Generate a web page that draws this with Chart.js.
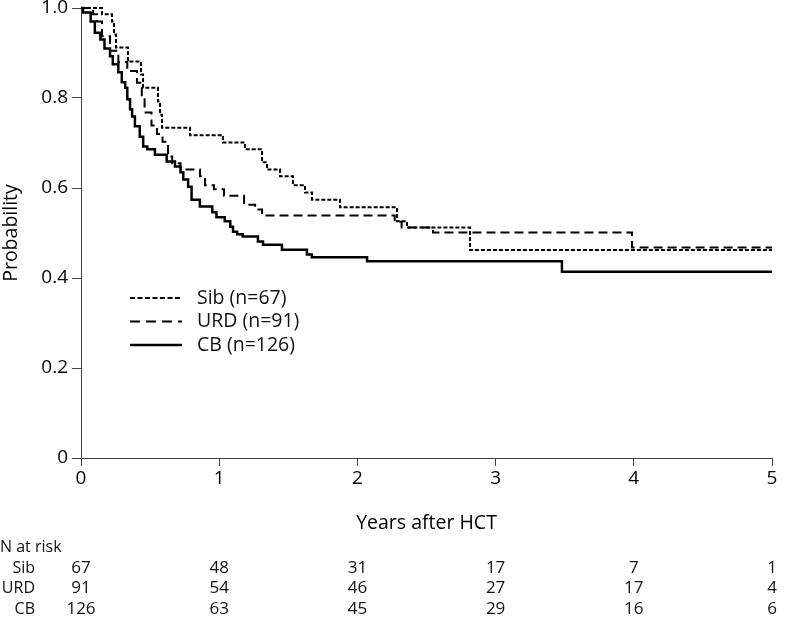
<!DOCTYPE html>
<html>
<head>
<meta charset="utf-8">
<script src="https://cdn.jsdelivr.net/npm/chart.js@4"></script>
<style>
  html, body { margin: 0; padding: 0; background: #fff; }
</style>
</head>
<body>
<canvas id="km" width="800" height="617"></canvas>
<script>
const FONT = '"Open Sans", sans-serif';

// Kaplan-Meier steps (years after HCT, probability)
const sibYears = [0, 0.152, 0.224, 0.239, 0.253, 0.340, 0.434, 0.449, 0.557, 0.572, 0.586, 0.789, 1.027, 1.187, 1.310, 1.346, 1.440, 1.534, 1.621, 1.671, 1.874, 2.287, 2.359, 2.815, 5];
const sibProb  = [1, 0.986, 0.970, 0.941, 0.912, 0.881, 0.852, 0.823, 0.792, 0.763, 0.734, 0.717, 0.701, 0.686, 0.657, 0.641, 0.626, 0.606, 0.590, 0.574, 0.557, 0.526, 0.512, 0.462, 0.462];

const urdYears = [0, 0.087, 0.116, 0.152, 0.21, 0.27, 0.335, 0.405, 0.44, 0.46, 0.51, 0.55, 0.59, 0.63, 0.66, 0.72, 0.861, 0.897, 0.962, 1.035, 1.18, 1.26, 1.31, 2.27, 2.32, 2.547, 3.987, 5];
const urdProb  = [1, 0.986, 0.970, 0.937, 0.905, 0.880, 0.860, 0.834, 0.797, 0.768, 0.739, 0.720, 0.703, 0.670, 0.655, 0.641, 0.626, 0.606, 0.597, 0.583, 0.563, 0.552, 0.539, 0.525, 0.512, 0.501, 0.468, 0.468];

const cbYears = [0, 0.015, 0.07, 0.10, 0.14, 0.17, 0.21, 0.23, 0.27, 0.295, 0.32, 0.335, 0.355, 0.37, 0.39, 0.425, 0.45, 0.48, 0.535, 0.62, 0.68, 0.72, 0.74, 0.775, 0.80, 0.86, 0.95, 0.98, 1.04, 1.08, 1.10, 1.13, 1.17, 1.28, 1.317, 1.454, 1.635, 1.67, 2.07, 3.48, 5];
const cbProb  = [1, 0.990, 0.970, 0.945, 0.930, 0.910, 0.893, 0.875, 0.857, 0.835, 0.823, 0.797, 0.775, 0.759, 0.737, 0.714, 0.692, 0.686, 0.674, 0.659, 0.648, 0.635, 0.619, 0.603, 0.574, 0.559, 0.546, 0.535, 0.526, 0.514, 0.503, 0.497, 0.492, 0.481, 0.474, 0.463, 0.452, 0.446, 0.437, 0.414, 0.414];

const legendLabels = ['Sib (n=67)', 'URD (n=91)', 'CB (n=126)'];
const groupNames = ['Sib', 'URD', 'CB'];

// numbers at risk table
const riskYears = [0, 1, 2, 3, 4, 5];
const riskSib = [67, 48, 31, 17, 7, 1];
const riskUrd = [91, 54, 46, 27, 17, 4];
const riskCb  = [126, 63, 45, 29, 16, 6];

function toPoints(xs, ys) {
  return xs.map((x, i) => ({ x: x, y: ys[i] }));
}

Chart.defaults.font.family = FONT;
Chart.defaults.color = '#111';

// legend drawn inside the plot, like the original figure
const kmLegend = {
  id: 'kmLegend',
  afterDatasetsDraw(chart) {
    const ctx = chart.ctx;
    ctx.save();
    chart.data.datasets.forEach((ds, i) => {
      const y = 298 + i * 23.5;
      ctx.beginPath();
      ctx.setLineDash(ds.legendDash);
      ctx.lineWidth = ds.borderWidth;
      ctx.strokeStyle = ds.borderColor;
      ctx.moveTo(130, y);
      ctx.lineTo(182, y);
      ctx.stroke();
      ctx.setLineDash([]);
      ctx.fillStyle = '#111';
      ctx.font = '19.5px ' + FONT;
      ctx.textBaseline = 'middle';
      ctx.textAlign = 'left';
      ctx.fillText(ds.label, 197, y);
    });
    ctx.restore();
  }
};

const riskTable = {
  id: 'riskTable',
  afterDraw(chart) {
    const ctx = chart.ctx;
    const xs = chart.scales.x;
    ctx.save();
    ctx.fillStyle = '#111';
    ctx.textBaseline = 'middle';
    ctx.textAlign = 'left';
    ctx.font = '16px ' + FONT;
    ctx.fillText('N at risk', 0, 547);
    [riskSib, riskUrd, riskCb].forEach((row, r) => {
      const y = 568 + r * 20.5;
      ctx.font = '16px ' + FONT;
      ctx.textAlign = 'right';
      ctx.fillText(groupNames[r], 35, y);
      ctx.font = '17px ' + FONT;
      ctx.textAlign = 'center';
      row.forEach((n, i) => ctx.fillText(String(n), xs.getPixelForValue(riskYears[i]), y));
    });
    ctx.restore();
  }
};

const lineBase = { borderColor: '#000', stepped: true, pointRadius: 0, fill: false, clip: false, tension: 0 };

new Chart(document.getElementById('km'), {
  type: 'line',
  data: {
    datasets: [
      Object.assign({}, lineBase, { label: legendLabels[0], data: toPoints(sibYears, sibProb), borderWidth: 2, borderDash: [4, 2], legendDash: [5, 2.5] }),
      Object.assign({}, lineBase, { label: legendLabels[1], data: toPoints(urdYears, urdProb), borderWidth: 2, borderDash: [9, 5], legendDash: [10, 6] }),
      Object.assign({}, lineBase, { label: legendLabels[2], data: toPoints(cbYears, cbProb), borderWidth: 2.5, borderDash: [], legendDash: [] })
    ]
  },
  options: {
    responsive: false,
    animation: false,
    layout: { padding: { top: 8, right: 28, bottom: 79, left: 0 } },
    plugins: { legend: { display: false }, tooltip: { enabled: false } },
    scales: {
      x: {
        type: 'linear', min: 0, max: 5,
        ticks: { stepSize: 1, color: '#000', font: { size: 19 }, padding: 1 },
        grid: { drawOnChartArea: false, drawTicks: true, tickLength: 8, color: '#444' },
        border: { color: '#444', width: 1 },
        title: { display: true, text: 'Years after HCT', color: '#000', font: { size: 19.5 }, padding: { top: 0, bottom: 3 } },
        afterFit(s) { s.height = 80; s.paddingLeft = 0; s.paddingRight = 0; }
      },
      y: {
        min: 0, max: 1,
        ticks: { stepSize: 0.2, color: '#000', font: { size: 19 }, padding: 4,
                 callback: v => v === 0 ? '0' : v.toFixed(1) },
        grid: { drawOnChartArea: false, drawTicks: true, tickLength: 9, color: '#444' },
        border: { color: '#444', width: 1 },
        title: { display: true, text: 'Probability', color: '#000', font: { size: 19.5 }, padding: { top: 0, bottom: 0 } },
        afterFit(s) { s.width = 81; s.paddingTop = 0; s.paddingBottom = 0; }
      }
    }
  },
  plugins: [kmLegend, riskTable]
});
</script>
</body>
</html>
